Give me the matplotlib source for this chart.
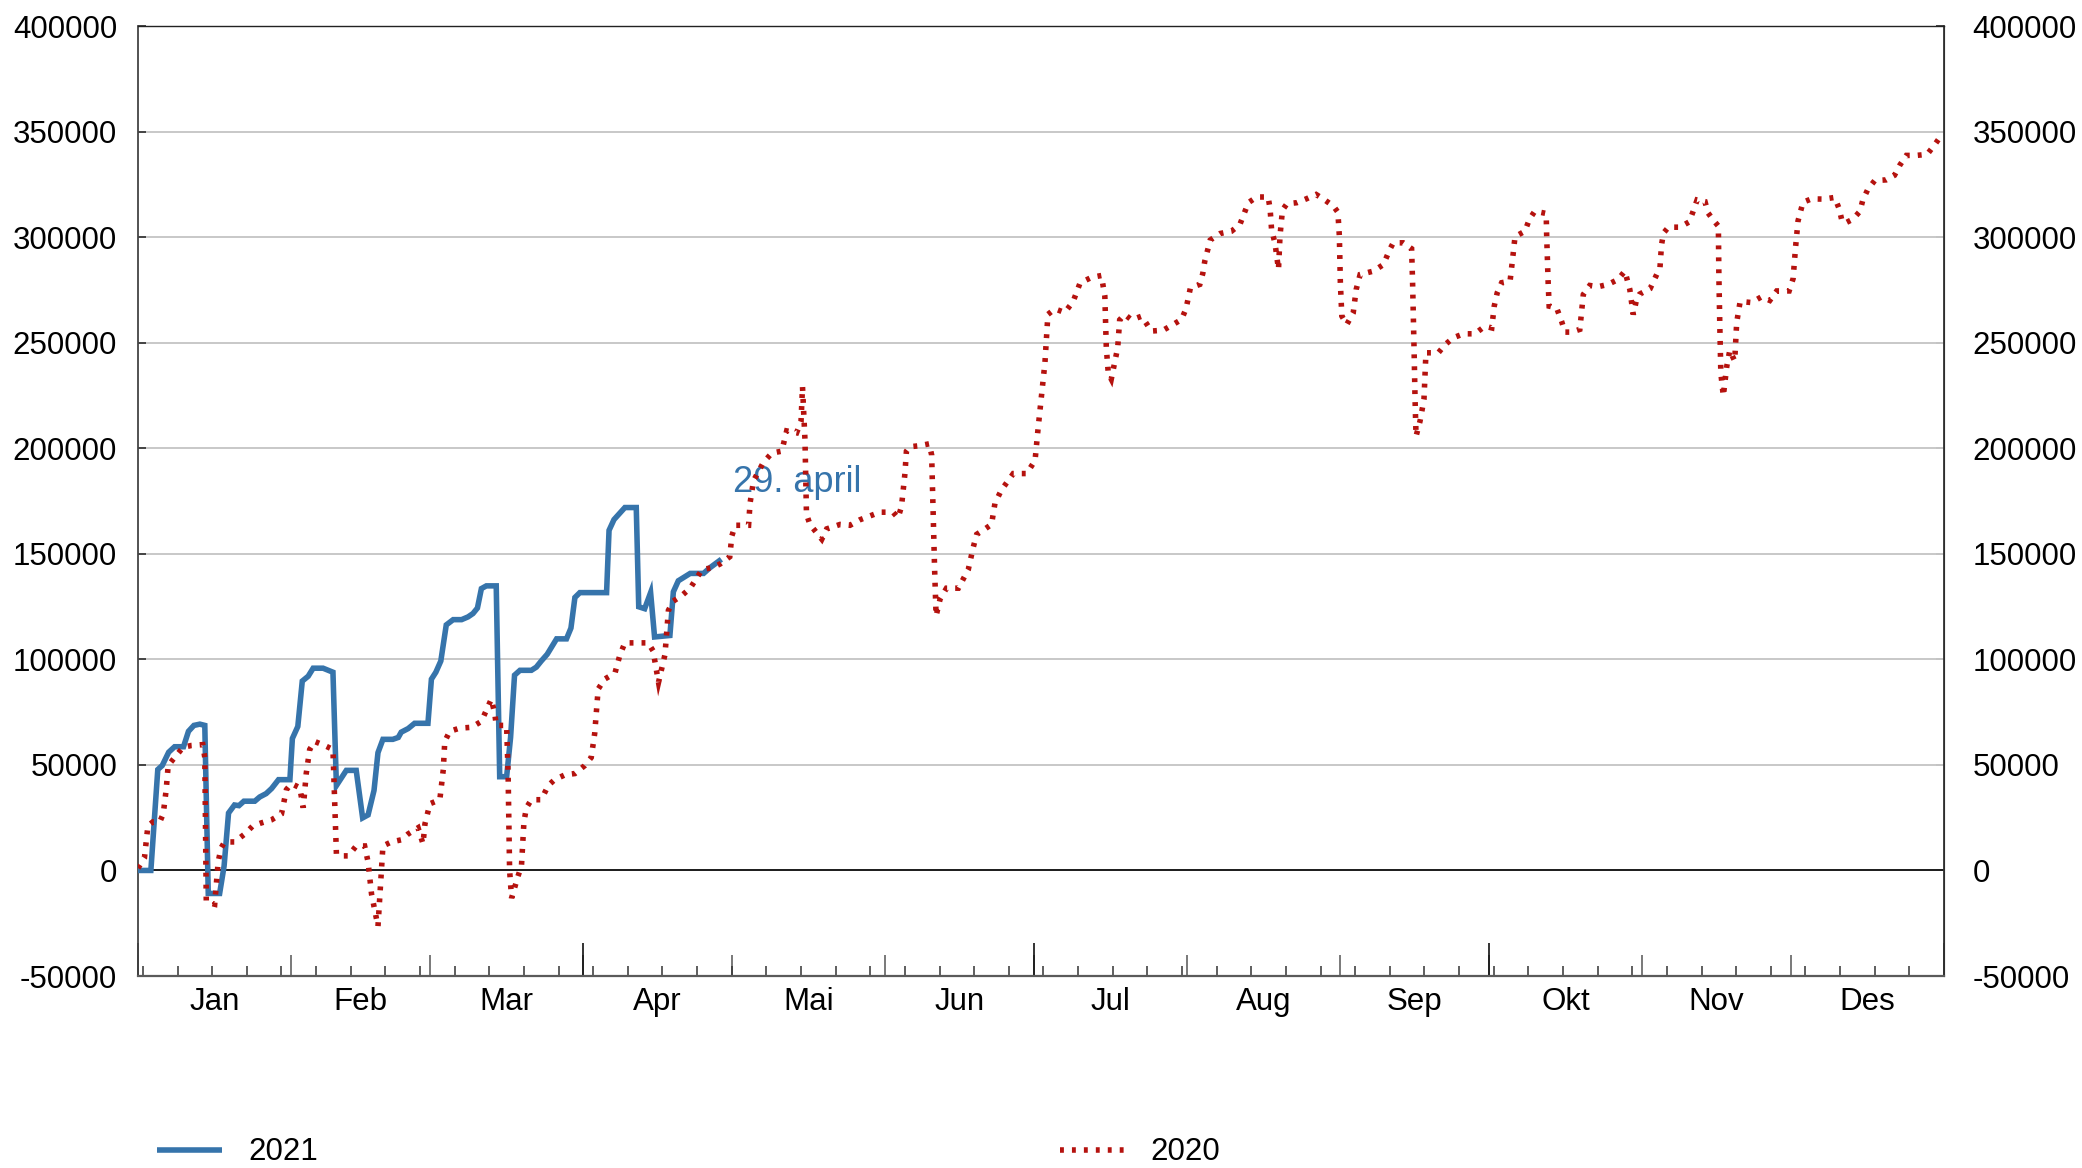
import matplotlib
matplotlib.use("Agg")
import matplotlib.pyplot as plt
import numpy as np

plt.rcParams['font.family'] = ['Liberation Sans', 'DejaVu Sans']
plt.rcParams['axes.unicode_minus'] = False

# ---------------- data (day of year, value) ----------------
days_2021 = [0, 2.6, 4, 4.9, 6.2, 7.4, 9.2, 10.2, 11.3, 12.5, 13.5, 14.2, 16.5, 17.4, 18.3,
             19.5, 20.4, 21.4, 23.6, 24.6, 25.9, 27, 28.4, 30.7, 31.2, 32.3, 33.2, 34.4, 35.4,
             37.4, 39.4, 40.1, 42.1, 44.1, 45.4, 46.5, 47.7, 48.5, 49.5, 51.5, 52.6, 53.2, 54.6,
             55.9, 58.6, 59.3, 60.2, 61.2, 62.3, 63.7, 65.4, 66.7, 67.7, 68.6, 69.4, 70.4, 72.4,
             73.1, 74.5, 75.3, 76.1, 77.2, 79.5, 80.5, 81.5, 82.7, 84.6, 86.6, 87.5, 88.3, 89.3,
             94.7, 95.2, 96.2, 98.4, 100.7, 101.2, 102.4, 103.6, 104.4, 107.5, 108.2, 109.2,
             111.6, 114.3, 115.6, 117.9]
vals_2021 = [0, 0, 47800, 49700, 56000, 58600, 58600, 65900, 68700, 69300, 68700, -10900, -10900,
             2100, 27200, 31000, 30700, 32800, 32800, 34800, 36400, 38800, 43000, 43000, 62500,
             68200, 89700, 92000, 95800, 95800, 93900, 40200, 47400, 47400, 24900, 26300, 37900,
             55800, 62100, 62100, 63000, 65500, 67200, 69700, 69700, 90600, 93900, 99200, 116300,
             118800, 118800, 120100, 121700, 124300, 133500, 134800, 134800, 44400, 44400, 63000,
             92500, 94800, 94800, 96300, 99200, 102400, 109700, 109700, 114800, 129300, 131600,
             131600, 161100, 166200, 171900, 171900, 124900, 124000, 131600, 110600, 111300,
             132000, 137200, 140700, 140700, 143400, 147400]

days_2020 = [0, 1.3, 2, 3, 4.4, 5.1, 5.7, 6.1, 7.4, 9.1, 10.8, 13.1, 13.5, 13.8, 15.5, 16.2,
             16.8, 17.5, 19.5, 21.6, 23.2, 24.9, 27, 29, 30, 31, 32.7, 33.4, 34, 34.7, 35.7, 37.7,
             39.4, 40.1, 40.8, 42.5, 44.1, 45.8, 46.5, 47.2, 48.5, 48.9, 49.5, 51.2, 53.2, 54.6,
             56.6, 57.6, 58, 59, 61, 61.7, 62, 63, 65, 67.4, 69.4, 71.4, 72.1, 72.4, 74.5, 74.8,
             75.1, 75.5, 76.8, 77.5, 78, 78.5, 79.5, 81.5, 82.9, 84.2, 86.3, 88.3, 90.3, 91.6,
             92.3, 93, 94.3, 96.4, 97.4, 98.4, 103.1, 104.1, 105.2, 106.5, 107.2, 108.2, 109.9,
             111.6, 114, 116, 117.6, 119.6, 120, 120.7, 123.4, 123.7, 124.4, 126.4, 128.1, 130.1,
             131.1, 133.1, 134, 134.3, 134.8, 135.1, 135.8, 138.2, 139.2, 141.9, 143.9, 145.9,
             147.9, 149.9, 152.6, 153.6, 154.3, 155, 155.3, 156, 158, 159.9, 160.4, 160.7, 161,
             161.3, 162.1, 163.4, 165.8, 167.8, 168.8, 169.5, 171.2, 172.5, 173.2, 174.5, 176.9,
             179.6, 181.3, 181.9, 182.6, 183.3, 183.9, 185.3, 187.3, 189, 190.4, 192.7, 194.7,
             195.4, 195.7, 196.1, 196.7, 198, 198.4, 199.4, 200.8, 202.8, 203.8, 204.8, 207.2,
             209.2, 210.9, 211.8, 212.7, 214.6, 215.2, 215.6, 216.7, 218.7, 221, 222.7, 224.4,
             226.1, 228.4, 228.8, 229.1, 229.8, 230.5, 230.8, 231.3, 232.2, 234.2, 236.2, 238.1,
             239.9, 241.6, 242.5, 242.8, 243, 243.3, 244.3, 245.6, 246.2, 247, 249.7, 251.7, 253,
             253.7, 255.7, 257.4, 257.6, 257.9, 258.1, 258.3, 259.1, 259.9, 260.3, 262.8, 264.2,
             265.8, 267.9, 270.2, 272.2, 273.6, 274.1, 274.7, 275.6, 277.3, 277.8, 278.3, 280.3,
             281.2, 282.3, 284.6, 284.7, 285, 285.2, 286.7, 287.7, 288.4, 289.7, 291.4, 292.1,
             293.4, 295.1, 297.1, 299.1, 300.5, 301.5, 302.2, 302.8, 303.5, 305.6, 306.6, 307.6,
             307.9, 308.3, 309.3, 311.6, 313.5, 314.3, 315.1, 316.7, 317.3, 318.5, 319.4, 319.5,
             319.7, 319.9, 320.4, 321.1, 321.7, 322.7, 323.1, 323.8, 326.1, 328.1, 329.8, 331.2,
             333.7, 334.5, 335, 335.5, 336.5, 338.2, 340.7, 342.9, 343.8, 344.3, 344.9, 346.6,
             348, 348.6, 349.6, 351, 353.3, 355, 356.1, 357.4, 359.4, 361.6, 363.1, 364.4]
vals_2020 = [1100, 5900, 21100, 23000, 23000, 26800, 38300, 49700, 53500, 58300, 59200, 59600,
             53500, -15000, -16000, 4000, 10700, 13500, 13500, 17300, 21100, 22500, 24000, 26800,
             38300, 41100, 39200, 29700, 45900, 57300, 61100, 59200, 57300, 7800, 6900, 6900,
             11600, 11600, 4000, -11200, -26500, -11200, 11600, 13500, 14500, 17300, 20200, 12600,
             22100, 31600, 33500, 47800, 61100, 65900, 67400, 67800, 70600, 81100, 74500, 68700,
             68700, 45900, 200, -13100, -2700, 2100, 23000, 29700, 33500, 33500, 40200, 43000,
             45300, 45900, 49700, 53500, 64900, 85900, 90600, 93500, 102100, 107800, 107800,
             104000, 89100, 102200, 123200, 127600, 130200, 133700, 142500, 143400, 145100,
             148600, 158300, 163500, 163500, 174000, 184600, 193300, 197700, 198600, 208200,
             207300, 212600, 229200, 203800, 168800, 163900, 156900, 161800, 163900, 163500,
             166100, 167900, 169700, 169700, 167000, 172300, 188000, 198600, 200700, 201200,
             202100, 196800, 168800, 142500, 120600, 128500, 133700, 133700, 142500, 153000,
             159200, 161800, 163900, 174000, 180200, 188000, 188000, 194200, 209100, 224800,
             240600, 263400, 266000, 264300, 269500, 278300, 280900, 281800, 272100, 247600,
             235400, 232700, 247600, 260800, 263400, 260800, 262500, 259100, 255500, 255900,
             258600, 261000, 266000, 276000, 277600, 282800, 288600, 298600, 301700, 302800,
             306000, 316300, 319000, 319000, 313400, 303600, 297000, 284700, 300500, 312800,
             315800, 316300, 318200, 320200, 317500, 314700, 311800, 300500, 278400, 262600,
             258600, 264100, 275200, 282300, 283900, 287000, 294200, 297300, 297300, 294500,
             278400, 246800, 223100, 205700, 212800, 223100, 245200, 245200, 249100, 252300,
             254200, 254200, 257800, 257000, 267300, 273600, 278400, 279100, 289400, 300200,
             302800, 308400, 312300, 311200, 300500, 278400, 267300, 266500, 260200, 255000,
             255000, 256300, 272800, 277100, 276500, 277600, 279900, 283900, 275200, 263300,
             269700, 273000, 275600, 280600, 285600, 296100, 301900, 304700, 304700, 307200,
             312200, 317600, 316800, 311500, 307700, 305200, 282000, 257100, 235500, 224700,
             238800, 246300, 241300, 259500, 269500, 269000, 271700, 270000, 274500, 274500,
             280300, 295200, 307700, 316500, 318100, 318000, 318800, 313500, 308500, 306500,
             308500, 312200, 317600, 322600, 326800, 327100, 329300, 334200, 338700, 338700,
             339200, 343700, 348000]

month_labels = ['Jan', 'Feb', 'Mar', 'Apr', 'Mai', 'Jun', 'Jul', 'Aug', 'Sep', 'Okt', 'Nov', 'Des']
month_lengths = [31, 28, 31, 30, 31, 30, 31, 31, 30, 31, 30, 31]
y_ticks = list(range(-50000, 400001, 50000))
series_names = ['2021', '2020']
annotation_text = '29. april'

BLUE = '#3674AB'
RED = '#B5120E'

# ---------------- figure ----------------
W, H = 2082, 1168
fig = plt.figure(figsize=(W / 100, H / 100), dpi=100)
L, R, T, B = 138, 1944, 26, 976
ax = fig.add_axes([L / W, 1 - B / H, (R - L) / W, (B - T) / H])

ax.set_xlim(0, 365)
ax.set_ylim(-50000, 400000)

starts = np.concatenate([[0], np.cumsum(month_lengths)[:-1]])
mids = starts + np.array(month_lengths) / 2.0
weekly = np.arange(1, 365, 7)
quarters = [0, 90, 181, 273, 365]

# grid + zero line
ax.set_axisbelow(True)
ax.yaxis.grid(True, color='#c8c8c8', lw=1.4)
ax.axhline(0, color='black', lw=1.2, zorder=1.5)

# series
l21, = ax.plot(days_2021, vals_2021, color=BLUE, lw=4.0, solid_joinstyle='miter',
               solid_capstyle='butt', zorder=3)
l20, = ax.plot(days_2020, vals_2020, color=RED, lw=4.0, linestyle=(0, (0.7, 1.45)),
               dash_joinstyle='miter', dash_capstyle='butt', zorder=4)

ax.text(120.2, 179300, annotation_text, color=BLUE, fontsize=26, ha='left', va='baseline')

# spines
ax.spines['left'].set_color('#444444'); ax.spines['left'].set_linewidth(1.3)
ax.spines['right'].set_color('#333333'); ax.spines['right'].set_linewidth(1.3)
ax.spines['top'].set_color('#222222'); ax.spines['top'].set_linewidth(1.0)
ax.spines['bottom'].set_color('#5a5a5a'); ax.spines['bottom'].set_linewidth(1.6)

# x axis: month labels at mid-month, weekly minor ticks
ax.set_xticks(mids)
ax.set_xticklabels(month_labels)
ax.tick_params(axis='x', which='major', length=0, pad=8, labelsize=22.5, labelcolor='black')
ax.set_xticks(weekly, minor=True)
ax.tick_params(axis='x', which='minor', direction='in', length=7.2, width=1.1, color='#333333')

sec_m = ax.secondary_xaxis('bottom')
sec_m.set_xticks(starts)
sec_m.tick_params(direction='in', length=15.3, width=1.1, color='#555555', labelbottom=False)
sec_m.spines['bottom'].set_visible(False)

sec_q = ax.secondary_xaxis('bottom')
sec_q.set_xticks(quarters)
sec_q.tick_params(direction='in', length=23.5, width=1.2, color='#111111', labelbottom=False)
sec_q.spines['bottom'].set_visible(False)

# y axes
ylabels = [str(v) for v in y_ticks]
ax.set_yticks(y_ticks)
ax.set_yticklabels(ylabels)
ax.tick_params(axis='y', direction='in', length=5.8, width=1.4, color='#444444', pad=15,
               labelsize=22.5)
sec_y = ax.secondary_yaxis('right')
sec_y.set_yticks(y_ticks)
sec_y.set_yticklabels(ylabels)
sec_y.tick_params(direction='in', length=5.8, width=1.4, color='#444444', pad=20.5,
                  labelsize=22.5)

# legend
fig.legend([l21, l20], series_names, ncol=2, loc='center left',
           bbox_to_anchor=(157 / W, 1 - 1152.5 / H), frameon=False, fontsize=22.5,
           handlelength=2.09, handletextpad=0.82, columnspacing=23.75, borderpad=0,
           borderaxespad=0)

fig.savefig('out.png', dpi=100)
